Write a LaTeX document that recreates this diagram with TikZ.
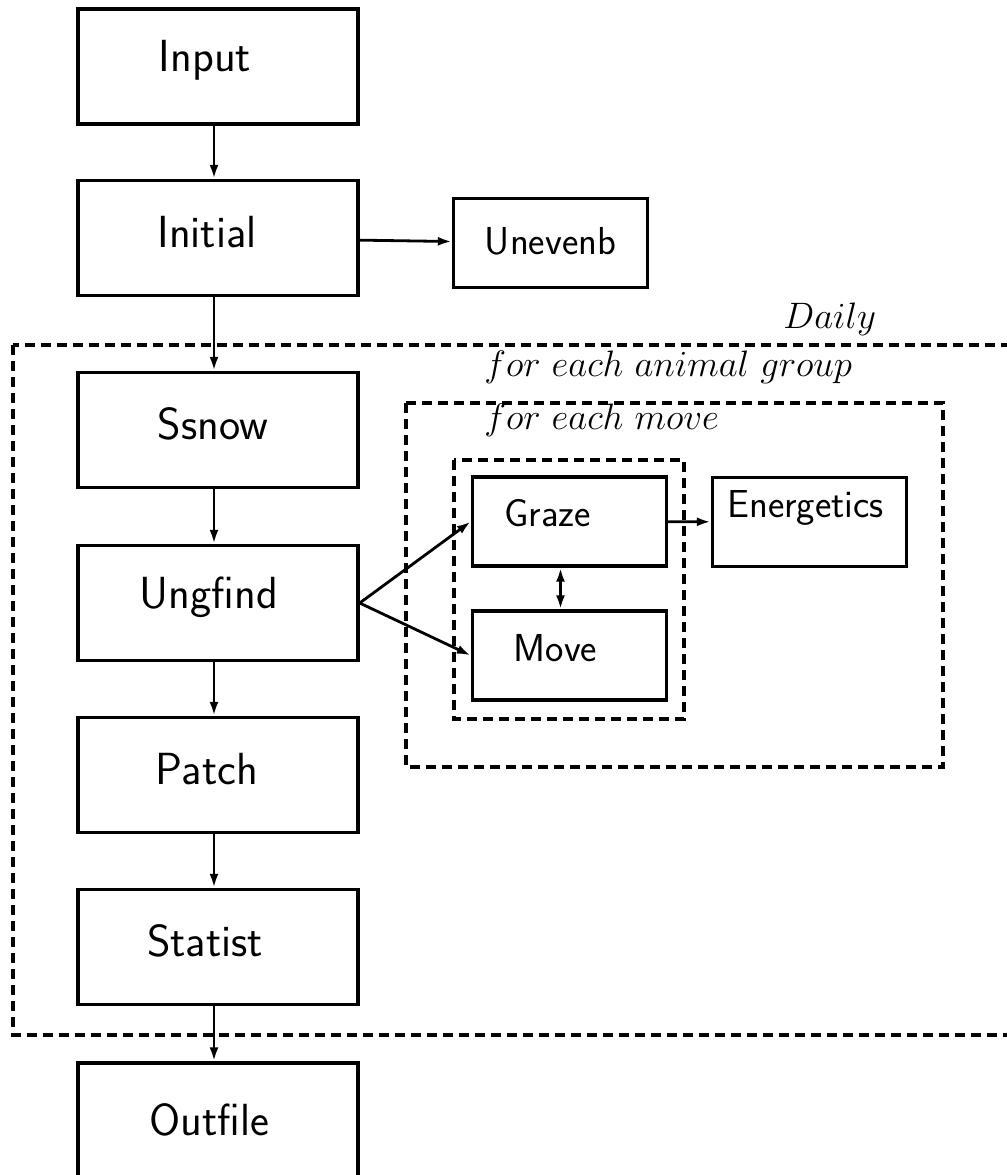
\RequirePackage{fix-cm}
\documentclass[tikz,border=0pt]{standalone}
\usepackage{fontspec}
\usetikzlibrary{arrows.meta}

\tikzset{
  bigbox/.style={draw, line width=1.7pt, minimum width=140pt, minimum height=57.5pt,
    inner sep=0pt},
  smallbox/.style={draw, line width=1.7pt, minimum width=97pt, minimum height=44.5pt,
    inner sep=0pt},
  bigtext/.style={inner sep=0pt, font=\fontsize{22.5}{26}\selectfont\sffamily},
  smalltext/.style={inner sep=0pt, font=\fontsize{19.5}{23}\selectfont\sffamily},
  frame/.style={line width=1.8pt, dash pattern=on 5pt off 3pt},
  looplabel/.style={anchor=base west, inner sep=0pt, font=\fontsize{18.4}{22}\selectfont},
}

\begin{document}
\begin{tikzpicture}[x=0.5pt, y=-0.5pt, >={Latex[length=7pt,width=4.5pt]}, line width=1.4pt]
    \useasboundingbox (0,0) rectangle (1007,1175);

    % main column
    \node[bigbox, label={[bigtext, xshift=-6.5pt, yshift=3pt]center:Input}]   (input)   at (218,66.5) {};
    \node[bigbox, label={[bigtext, xshift=-5.5pt, yshift=3pt]center:Initial}] (initial) at (218,238)  {};
    \node[bigbox, label={[bigtext, xshift=-2.5pt, yshift=3pt]center:Ssnow}]   (ssnow)   at (218,430)  {};
    \node[bigbox, label={[bigtext, xshift=-4.5pt, yshift=3pt]center:Ungfind}] (ungfind) at (218,603)  {};
    \node[bigbox, label={[bigtext, xshift=-5.5pt, yshift=3pt]center:Patch}]   (patch)   at (218,775)  {};
    \node[bigbox, label={[bigtext, xshift=-6.5pt, yshift=3pt]center:Statist}] (statist) at (218,947)  {};
    \node[bigbox, minimum height=60pt, label={[bigtext, xshift=-4.5pt, yshift=1.5pt]center:Outfile}] (outfile) at (218,1123) {};

    \node[smallbox, label={[smalltext, yshift=1pt]center:Unevenb}]                 (unevenb)    at (550.5,243)   {};
    \node[smallbox, label={[smalltext, xshift=-11pt, yshift=4pt]center:Graze}]     (graze)      at (569.5,521.5) {};
    \node[smallbox, label={[smalltext, xshift=-7pt, yshift=3.5pt]center:Move}]     (move)       at (569.5,655.5) {};
    \node[smallbox, label={[smalltext, xshift=-2pt, yshift=7pt]center:Energetics}] (energetics) at (809.5,522)   {};

    % loops
    \draw[frame] (13,345) rectangle (1030,1035);
    \draw[frame] (406,403) rectangle (943,767);
    \draw[frame] (454,460) rectangle (684,719);
    \node[looplabel] (daily) at (782,328) {$Daily$};
    \node[looplabel] (group) at (483,376) {$for\ each\ animal\ group$};
    \node[looplabel] (each)  at (483,429) {$for\ each\ move$};

    \draw[->] ([xshift=-2pt]input.south) -- ([xshift=-2pt]initial.north);
    \draw[->] ([xshift=-2pt]initial.south) -- ([xshift=-2pt]ssnow.north);
    \draw[->] ([xshift=-2pt]ssnow.south) -- ([xshift=-2pt]ungfind.north);
    \draw[->] ([xshift=-2pt]ungfind.south) -- ([xshift=-2pt]patch.north);
    \draw[->] ([xshift=-2pt]patch.south) -- ([xshift=-2pt]statist.north);
    \draw[->] ([xshift=-2pt]statist.south) -- ([xshift=-2pt]outfile.north);
    \draw[->] (initial) -- (unevenb);
    \draw[->] (ungfind.east) -- (graze.west);
    \draw[->] (ungfind.east) -- (move.west);
    \draw[<->] ([xshift=-4.5pt]graze.south) -- ([xshift=-4.5pt]move.north);
    \draw[->] (graze) -- (energetics);
\end{tikzpicture}
\end{document}
